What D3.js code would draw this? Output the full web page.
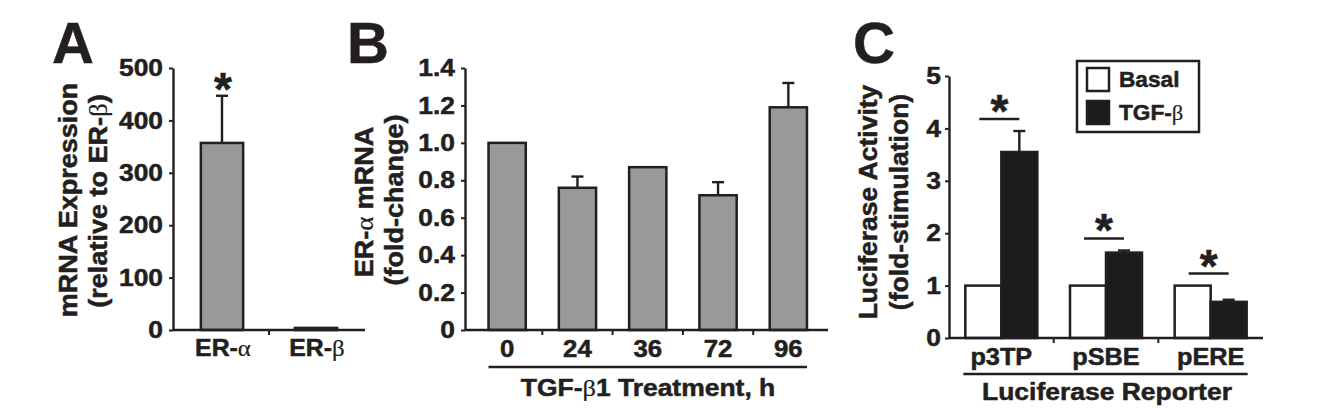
<!DOCTYPE html>
<html><head><meta charset="utf-8">
<script src="https://cdn.jsdelivr.net/npm/d3@7"></script>
<style>
body{margin:0;background:#fff}
svg text{font-family:"Liberation Sans",Arial,Helvetica,sans-serif;font-weight:bold;fill:#231f20;stroke:#231f20;stroke-width:0.5px}
</style></head><body>
<svg id="chart" width="1324" height="419"></svg>
<script>
// ---------- data ----------
const aCategories = ["ER-α", "ER-β"];
const aValues = [357, 4];
const aErrors = [90, 0];
const aTicks = [0, 100, 200, 300, 400, 500];

const bCategories = ["0", "24", "36", "72", "96"];
const bValues = [1.0, 0.76, 0.87, 0.72, 1.19];
const bErrors = [0, 0.06, 0, 0.07, 0.13];
const bTicks = [0, 0.2, 0.4, 0.6, 0.8, 1.0, 1.2, 1.4];
const bTickLabels = ["0", "0.2", "0.4", "0.6", "0.8", "1.0", "1.2", "1.4"];

const cCategories = ["p3TP", "pSBE", "pERE"];
const cSeries = ["Basal", "TGF-β"];
const cBasal = [1, 1, 1];
const cTGF = [3.55, 1.63, 0.69];
const cTGFErrors = [0.40, 0.04, 0.04];
const cTicks = [0, 1, 2, 3, 4, 5];

// ---------- helpers ----------
const INK = "#231f20";
const svg = d3.select("#chart");
const GREEK = /([\u0370-\u03ff])/;
function rich(t, str) {
  str.split(GREEK).filter(s => s).forEach(part => {
    const ts = t.append("tspan").text(part);
    if (GREEK.test(part)) ts.style("font-family", "'Liberation Serif','Times New Roman',serif").style("font-weight", "normal").style("stroke-width", "0.2px");
  });
  return t;
}
function stretch(sel, k) {
  sel.each(function () {
    const w = this.getComputedTextLength();
    this.setAttribute("textLength", w * k);
    this.setAttribute("lengthAdjust", "spacingAndGlyphs");
  });
}
function styleAxis(g, fs, k) {
  g.attr("font-family", null).attr("font-size", null);
  g.select(".domain").attr("stroke", INK).attr("stroke-width", 2.4);
  g.selectAll(".tick line").attr("stroke", INK).attr("stroke-width", 2);
  g.selectAll(".tick text").style("font-size", fs + "px").attr("fill", INK);
  stretch(g.selectAll(".tick text"), k);
}
function label(x, y, str, fs, k, anchor, rot) {
  const t = svg.append("text").attr("text-anchor", anchor || "middle").style("font-size", fs + "px");
  if (rot) t.attr("transform", `translate(${x},${y}) rotate(-90)`);
  else t.attr("x", x).attr("y", y);
  rich(t, str);
  if (k) stretch(t, k);
  return t;
}
function star(x, y) {
  svg.append("text").attr("x", x).attr("y", y + 25).attr("text-anchor", "middle")
    .style("font-size", "46px").text("*");
}
function errBar(g, x, yTop, yBar) {
  g.append("line").attr("x1", x).attr("x2", x).attr("y1", yBar).attr("y2", yTop).attr("stroke", INK).attr("stroke-width", 2.4);
  g.append("line").attr("x1", x - 6).attr("x2", x + 6).attr("y1", yTop).attr("y2", yTop).attr("stroke", INK).attr("stroke-width", 2.4);
}
const TICK_FS = 24, TICK_K = 1.1;
const CAT_FS = 23, CAT_K = 1.08;
const TITLE_FS = 25, TITLE_K = 1.08;
const SW = 2.5;

// ---------- Panel A ----------
{
  const y = d3.scaleLinear().domain([0, 500]).range([330, 68]);
  const x = d3.scaleBand().domain(aCategories).range([175, 363]);
  const g = svg.append("g");
  const bw = x.bandwidth() * 0.45;
  aCategories.forEach((c, i) => {
    const cx = x(c) + x.bandwidth() / 2;
    if (aErrors[i] > 0) errBar(g, cx, y(aValues[i] + aErrors[i]), y(aValues[i]));
    g.append("rect").attr("x", cx - bw / 2).attr("y", y(aValues[i])).attr("width", bw)
      .attr("height", y(0) - y(aValues[i])).attr("fill", "#999").attr("stroke", INK).attr("stroke-width", SW);
    label(cx + 1, 356, c, CAT_FS, CAT_K);
    if (i > 0) g.append("line").attr("x1", x(c)).attr("x2", x(c)).attr("y1", 330).attr("y2", 335).attr("stroke", INK).attr("stroke-width", 2);
  });
  g.append("line").attr("x1", 173).attr("x2", 365).attr("y1", 330).attr("y2", 330).attr("stroke", INK).attr("stroke-width", SW);
  const ax = g.append("g").attr("transform", "translate(173,0)")
    .call(d3.axisLeft(y).tickValues(aTicks).tickSize(4).tickSizeOuter(0).tickPadding(6));
  styleAxis(ax, TICK_FS, TICK_K);
  star(x(aCategories[0]) + x.bandwidth() / 2 + 1, y(aValues[0] + aErrors[0]) - 16);
  label(77, 200, "mRNA Expression", TITLE_FS, TITLE_K, "middle", true);
  label(107, 201, "(relative to ER-β)", TITLE_FS, TITLE_K, "middle", true);
  svg.append("text").attr("x", 52).attr("y", 63).style("font-size", "58px").text("A");
}

// ---------- Panel B ----------
{
  const y = d3.scaleLinear().domain([0, 1.4]).range([330, 68]);
  const x = d3.scaleBand().domain(bCategories).range([472, 823.5]);
  const g = svg.append("g");
  const bw = x.bandwidth() * 0.53;
  bCategories.forEach((c, i) => {
    const cx = x(c) + x.bandwidth() / 2;
    if (bErrors[i] > 0) errBar(g, cx, y(bValues[i] + bErrors[i]), y(bValues[i]));
    g.append("rect").attr("x", cx - bw / 2).attr("y", y(bValues[i])).attr("width", bw)
      .attr("height", y(0) - y(bValues[i])).attr("fill", "#999").attr("stroke", INK).attr("stroke-width", SW);
    label(cx, 357, c, CAT_FS, 1.12);
    if (i > 0) g.append("line").attr("x1", x(c)).attr("x2", x(c)).attr("y1", 330).attr("y2", 335).attr("stroke", INK).attr("stroke-width", 2);
  });
  g.append("line").attr("x1", 465).attr("x2", 828).attr("y1", 330).attr("y2", 330).attr("stroke", INK).attr("stroke-width", SW);
  const ax = g.append("g").attr("transform", "translate(465,0)")
    .call(d3.axisLeft(y).tickValues(bTicks).tickFormat((d, i) => bTickLabels[i]).tickSize(4).tickSizeOuter(0).tickPadding(6));
  styleAxis(ax, TICK_FS, TICK_K);
  const x0 = x(bCategories[0]) + x.bandwidth() / 2 - bw / 2;
  const x1 = x(bCategories[4]) + x.bandwidth() / 2 + bw / 2;
  g.append("line").attr("x1", x0).attr("x2", x1).attr("y1", 367).attr("y2", 367).attr("stroke", INK).attr("stroke-width", SW);
  label(648, 396, "TGF-β1 Treatment, h", 23, 1.15);
  label(373, 202, "ER-α mRNA", TITLE_FS, TITLE_K, "middle", true);
  label(403, 200, "(fold-change)", TITLE_FS, TITLE_K, "middle", true);
  svg.append("text").attr("x", 347).attr("y", 63).style("font-size", "58px").text("B");
}

// ---------- Panel C ----------
{
  const y = d3.scaleLinear().domain([0, 5]).range([338, 76]);
  const x = d3.scaleBand().domain(cCategories).range([949, 1263]);
  const xi = d3.scaleBand().domain(cSeries).range([0, 72]);
  const g = svg.append("g");
  cCategories.forEach((c, i) => {
    const cx = x(c) + x.bandwidth() / 2;
    const left = cx - 36;
    const tx = left + xi(cSeries[1]) + xi.bandwidth() / 2;
    errBar(g, tx, y(cTGF[i] + cTGFErrors[i]), y(cTGF[i]));
    g.append("rect").attr("x", left + xi(cSeries[0])).attr("y", y(cBasal[i])).attr("width", xi.bandwidth())
      .attr("height", y(0) - y(cBasal[i])).attr("fill", "#fff").attr("stroke", INK).attr("stroke-width", SW);
    g.append("rect").attr("x", left + xi(cSeries[1])).attr("y", y(cTGF[i])).attr("width", xi.bandwidth())
      .attr("height", y(0) - y(cTGF[i])).attr("fill", "#1c1c1c").attr("stroke", INK).attr("stroke-width", SW);
    label(cx, 365, c, CAT_FS, 1.1);
    if (i > 0) g.append("line").attr("x1", x(c)).attr("x2", x(c)).attr("y1", 338).attr("y2", 343).attr("stroke", INK).attr("stroke-width", 2);
    // significance
    const top = Math.min(y(cBasal[i]), y(cTGF[i] + cTGFErrors[i]));
    const ly = top - 12;
    const bx = left + xi(cSeries[0]) + xi.bandwidth() / 2;
    g.append("line").attr("x1", bx - 4).attr("x2", tx).attr("y1", ly).attr("y2", ly).attr("stroke", INK).attr("stroke-width", SW);
    star((bx - 4 + tx) / 2, ly - 17);
  });
  g.append("line").attr("x1", 949).attr("x2", 1263).attr("y1", 338).attr("y2", 338).attr("stroke", INK).attr("stroke-width", SW);
  const ax = g.append("g").attr("transform", "translate(949,0)")
    .call(d3.axisLeft(y).tickValues(cTicks).tickFormat(d3.format("d")).tickSize(4).tickSizeOuter(0).tickPadding(4));
  styleAxis(ax, TICK_FS, TICK_K);
  const cx0 = x(cCategories[0]) + x.bandwidth() / 2 - 36;
  const cx1 = x(cCategories[2]) + x.bandwidth() / 2 + 36;
  g.append("line").attr("x1", cx0 - 2).attr("x2", cx1 + 1).attr("y1", 374).attr("y2", 374).attr("stroke", INK).attr("stroke-width", SW);
  label(1107, 400, "Luciferase Reporter", 23, 1.15);
  label(877, 202, "Luciferase Activity", TITLE_FS, 1.06, "middle", true);
  label(908, 202, "(fold-stimulation)", TITLE_FS, 1.06, "middle", true);
  svg.append("text").attr("x", 853).attr("y", 63).style("font-size", "58px").text("C");
  // legend
  const lg = svg.append("g");
  lg.append("rect").attr("x", 1077).attr("y", 61).attr("width", 122).attr("height", 71).attr("fill", "none").attr("stroke", INK).attr("stroke-width", SW);
  const fills = ["#fff", "#1c1c1c"];
  cSeries.forEach((s, i) => {
    const yy = 68 + i * 33;
    lg.append("rect").attr("x", 1087).attr("y", yy).attr("width", 22).attr("height", 23).attr("fill", fills[i]).attr("stroke", INK).attr("stroke-width", SW);
    label(1119, yy + 19, s, 22, 1.03, "start");
  });
}
</script>
</body></html>
